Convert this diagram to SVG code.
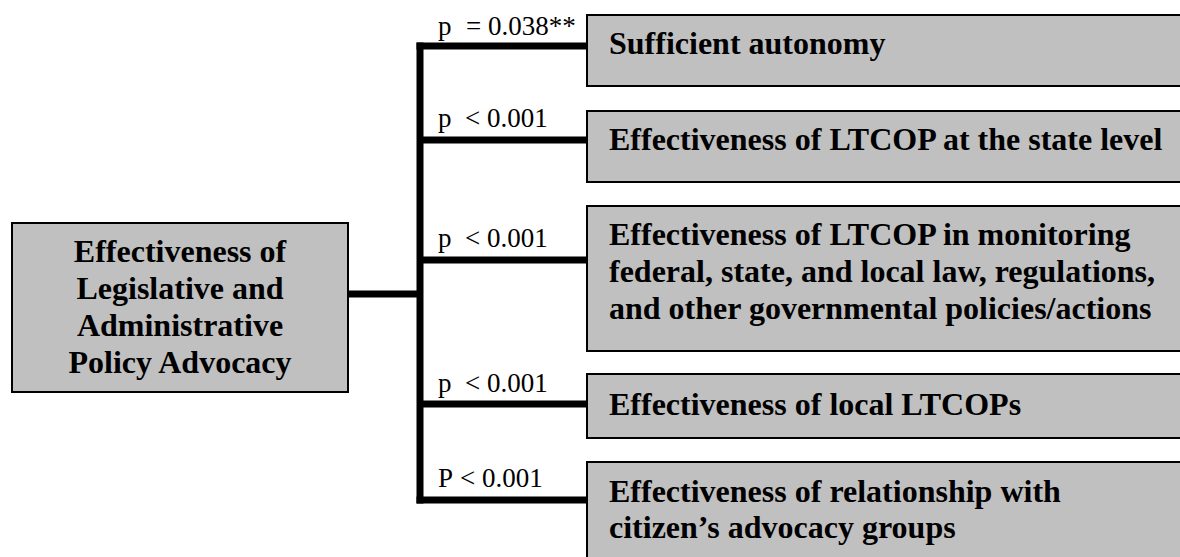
<svg xmlns="http://www.w3.org/2000/svg" width="1180" height="557" viewBox="0 0 1180 557">
<style>
.box{fill:#c0c0c0;stroke:#000;stroke-width:2}
.t{font-family:"Liberation Serif","Times New Roman",serif;font-weight:bold;font-size:32px;fill:#000}
.l{font-family:"Liberation Serif","Times New Roman",serif;font-size:27px;fill:#000}
.c{stroke:#000;stroke-width:7;fill:none}
</style>
<rect width="1180" height="557" fill="#fff"/>
<g id="connectors">
<line class="c" x1="348" y1="294" x2="423" y2="294"/>
<line class="c" x1="420" y1="42.5" x2="420" y2="503.5"/>
<line class="c" x1="416.5" y1="46" x2="587" y2="46"/>
<line class="c" x1="420" y1="140" x2="587" y2="140"/>
<line class="c" x1="420" y1="260" x2="587" y2="260"/>
<line class="c" x1="420" y1="404" x2="587" y2="404"/>
<line class="c" x1="416.5" y1="500" x2="587" y2="500"/>
<text class="l" x="438" y="35">p</text><text class="l" x="466" y="35">= 0.038**</text>
<text class="l" x="438" y="127">p</text><text class="l" x="465" y="127">&lt; 0.001</text>
<text class="l" x="438" y="247">p</text><text class="l" x="465" y="247">&lt; 0.001</text>
<text class="l" x="438" y="392">p</text><text class="l" x="465" y="392">&lt; 0.001</text>
<text class="l" x="438" y="487">P</text><text class="l" x="460" y="487">&lt; 0.001</text>
</g>
<g id="root">
<rect class="box" x="12" y="223" width="336" height="169"/>
<text class="t" text-anchor="middle" x="180" y="262">Effectiveness of</text>
<text class="t" text-anchor="middle" x="180" y="299">Legislative and</text>
<text class="t" text-anchor="middle" x="180" y="336">Administrative</text>
<text class="t" text-anchor="middle" x="180" y="373">Policy Advocacy</text>
</g>
<g id="n1">
<rect class="box" x="587" y="15" width="620" height="71"/>
<text class="t" x="609" y="54">Sufficient autonomy</text>
</g>
<g id="n2">
<rect class="box" x="587" y="111" width="620" height="71"/>
<text class="t" x="609" y="150">Effectiveness of LTCOP at the state level</text>
</g>
<g id="n3">
<rect class="box" x="587" y="206" width="620" height="145"/>
<text class="t" x="609" y="245">Effectiveness of LTCOP in monitoring</text>
<text class="t" x="609" y="282">federal, state, and local law, regulations,</text>
<text class="t" x="609" y="319">and other governmental policies/actions</text>
</g>
<g id="n4">
<rect class="box" x="587" y="374" width="620" height="64"/>
<text class="t" x="609" y="415">Effectiveness of local LTCOPs</text>
</g>
<g id="n5">
<rect class="box" x="587" y="462" width="620" height="120"/>
<text class="t" x="609" y="502">Effectiveness of relationship with</text>
<text class="t" x="609" y="538">citizen’s advocacy groups</text>
</g>
</svg>
